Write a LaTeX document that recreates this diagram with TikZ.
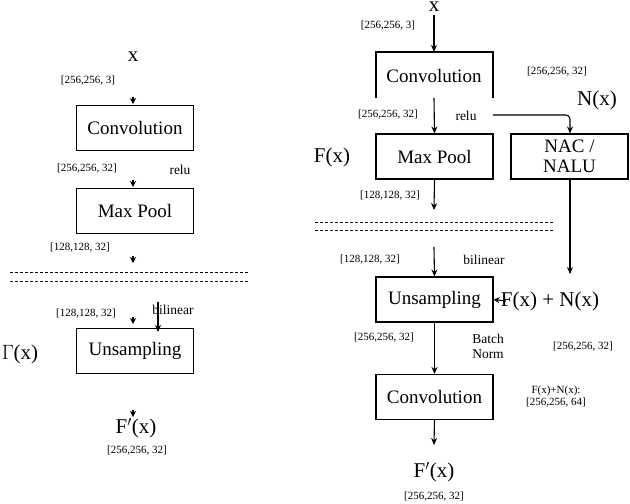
\documentclass[tikz,border=0pt]{standalone}
\usepackage{fontspec}
\setmainfont{Liberation Serif}
\usetikzlibrary{arrows.meta}
\begin{document}
\begin{tikzpicture}[x=1pt,y=-1pt,line width=1.1pt,
  box/.style={draw,minimum width=117pt,minimum height=45pt,inner sep=0pt,font=\fontsize{19}{21}\selectfont},
  sm/.style={font=\fontsize{11}{12}\selectfont},
  md/.style={font=\fontsize{13.5}{15}\selectfont},
  big/.style={font=\fontsize{21}{23}\selectfont},
  arr/.style={-{Stealth[length=7pt,width=6pt]}},
  tip/.style={-{Stealth[length=6pt,width=6pt]}}]
\useasboundingbox (0,0) rectangle (630,504);
% ---------- left
\node[big] (lx) at (133,57) {x};
\node[sm] (ls1) at (88,81) {[256,256, 3]};
\coordinate (lt1a) at (133,97); \coordinate (lt1b) at (133,104);
\draw[tip] (lt1a) -- (lt1b);
\node[box] (lconv) at (135,128) {Convolution};
\node[sm] (ls2) at (87,169) {[256,256, 32]};
\node[md] (lrelu) at (180,170) {relu};
\coordinate (lt2a) at (133,180); \coordinate (lt2b) at (133,187);
\draw[tip] (lt2a) -- (lt2b);
\node[box] (lmax) at (135,211) {Max Pool};
\node[sm] (ls3) at (80,248) {[128,128, 32]};
\coordinate (lt3a) at (133,256); \coordinate (lt3b) at (133,263);
\draw[tip] (lt3a) -- (lt3b);
\coordinate (ld1a) at (10,272); \coordinate (ld1b) at (248,272);
\coordinate (ld2a) at (10,281); \coordinate (ld2b) at (248,281);
\draw[line width=0.8pt,dash pattern=on 3pt off 2pt] (ld1a) -- (ld1b);
\draw[line width=0.8pt,dash pattern=on 3pt off 2pt] (ld2a) -- (ld2b);
\node[sm] (ls4) at (86,314) {[128,128, 32]};
\node[md] (lbil) at (173,310) {bilinear};
\coordinate (lt4a) at (133,317); \coordinate (lt4b) at (133,324);
\draw[tip] (lt4a) -- (lt4b);
\node[box] (lup) at (135,351) {Unsampling};
\coordinate (lb1) at (158,302); \coordinate (lb2) at (158,332);
\draw[arr] (lb1) -- (lb2);
\node[big] (lfx) at (20,354) {$\Gamma$(x)};
\coordinate (lt5a) at (133,410); \coordinate (lt5b) at (133,417);
\draw[tip] (lt5a) -- (lt5b);
\node[big] (lfp) at (136,428) {F$'$(x)};
\node[sm] (ls5) at (137,451) {[256,256, 32]};
% ---------- right
\node[big,anchor=south] (rx) at (434,15) {x};
\node[sm] (rs1) at (388,26) {[256,256, 3]};
\coordinate (rc1) at (434,15);
\coordinate (rconvT) at (434,52);
\draw[arr] (rc1) -- (rconvT);
\node[font=\fontsize{19}{21}\selectfont] (rconv) at (434,76) {Convolution};
\coordinate (rcl) at (376,98); \coordinate (rcr) at (493,98);
\draw (rcl) |- (rconvT) -| (rcr);
\node[sm] (rs2) at (557,72) {[256,256, 32]};
\node[big] (rnx) at (597,100) {N(x)};
\node[sm] (rs3) at (388,115) {[256,256, 32]};
\node[md] (rrelu) at (466,116) {relu};
\node[box] (rmax) at (434.5,156.5) {Max Pool};
\coordinate (rcb) at (434,98);
\draw[arr] (rcb) -- (rmax.north);
\node[box,align=center,font=\fontsize{19}{20}\selectfont] (nalu) at (569.5,156.5) {NAC /\\NALU};
\coordinate (rr1) at (493,115);
\draw[arr,rounded corners=4pt] (rr1) -- (570,115) -- (nalu.north -| 570,0);
\node[big] (rfx) at (332,157) {F(x)};
\node[sm] (rs4) at (390,196) {[128,128, 32]};
\coordinate (rm1) at (434,210);
\draw[arr] (rmax.south) -- (rm1);
\coordinate (rd1a) at (315,222); \coordinate (rd1b) at (553,222);
\coordinate (rd2a) at (315,230); \coordinate (rd2b) at (553,230);
\draw[line width=0.8pt,dash pattern=on 3pt off 2pt] (rd1a) -- (rd1b);
\draw[line width=0.8pt,dash pattern=on 3pt off 2pt] (rd2a) -- (rd2b);
\node[sm] (rs5) at (370,260) {[128,128, 32]};
\node[md] (rbil) at (484,260) {bilinear};
\node[box] (rup) at (434.5,299.5) {Unsampling};
\coordinate (ru0) at (434,247);
\draw[arr] (ru0) -- (rup.north);
\coordinate (rn1) at (570,274);
\draw[arr] (nalu.south -| 570,0) -- (rn1);
\node[big] (rsum) at (550,301) {F(x) + N(x)};
\coordinate (rs0) at (506,301);
\draw[tip] (rs0) -- (rup.east);
\node[sm] (rs6) at (384,338) {[256,256, 32]};
\node[md,align=center] (rbn) at (488,346) {Batch\\Norm};
\node[sm] (rs7) at (583,347) {[256,256, 32]};
\node[box] (rconv2) at (434.5,397) {Convolution};
\draw[arr] (rup.south) -- (rconv2.north);
\node[sm,align=center] (rs8) at (556,397) {F(x)+N(x):\\{}[256,256, 64]};
\coordinate (rc2) at (434,445);
\draw[arr] (rconv2.south) -- (rc2);
\node[big] (rfp) at (434,472) {F$'$(x)};
\node[sm] (rs9) at (434,497) {[256,256, 32]};
\end{tikzpicture}
\end{document}
